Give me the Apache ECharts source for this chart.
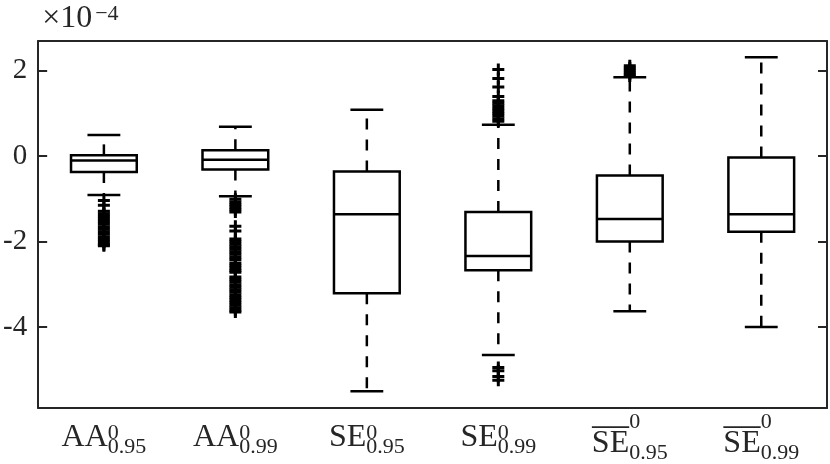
<!DOCTYPE html>
<html lang="en">
<head>
<meta charset="UTF-8">
<title>boxplot</title>
<script src="https://cdn.jsdelivr.net/npm/echarts@6/dist/echarts.min.js"></script>
</head>
<body style="margin:0;background:#fff">
<div id="main" style="width:830px;height:464px"></div>
<script>
// values are in units of 1e-4
var categories = ['AA 0.95', 'AA 0.99', 'SE 0.95', 'SE 0.99', 'SEbar 0.95', 'SEbar 0.99'];
var labelBase = ['AA', 'AA', 'SE', 'SE', 'SE', 'SE'];
var labelSup = ['0', '0', '0', '0', '0', '0'];
var labelSub = ['0.95', '0.99', '0.95', '0.99', '0.95', '0.99'];
var labelBar = [false, false, false, false, true, true];

var whiskerHigh = [0.50, 0.69, 1.09, 0.74, 1.85, 2.32];
var upperQ = [0.02, 0.14, -0.36, -1.31, -0.45, -0.03];
var medians = [-0.10, -0.085, -1.36, -2.34, -1.47, -1.36];
var lowerQ = [-0.37, -0.31, -3.21, -2.67, -2.00, -1.77];
var whiskerLow = [-0.91, -0.94, -5.51, -4.66, -3.63, -4.00];
var outliers = [
  [-1.04, -1.15, -1.29, -1.35, -1.41, -1.47, -1.53, -1.59, -1.65, -1.71, -1.77, -1.83, -1.89, -1.95, -2.01, -2.07, -2.10],
  [-1.01, -1.07, -1.13, -1.19, -1.25, -1.31, -1.64, -1.75, -1.94, -2.00, -2.06, -2.12, -2.18, -2.24, -2.30, -2.36, -2.42,
   -2.50, -2.56, -2.62, -2.68, -2.72, -2.83, -2.89, -2.95, -3.01, -3.07, -3.13, -3.19, -3.25, -3.31, -3.37, -3.43,
   -3.49, -3.55, -3.61, -3.65],
  [],
  [2.03, 1.82, 1.62, 1.40, 1.30, 1.24, 1.18, 1.12, 1.06, 1.00, 0.94, 0.88, 0.82, -4.95, -5.03, -5.16, -5.25],
  [2.12, 2.07, 2.02, 1.97, 1.92, 1.88],
  []
];
var yTicks = [-4, -2, 0, 2];

var FONT = "'Liberation Serif', 'DejaVu Serif', serif";
var AXC = '#262626';
var CLEAR = 'rgba(0,0,0,0)';

var boxData = categories.map(function (c, i) {
  return [i, whiskerLow[i], lowerQ[i], medians[i], upperQ[i], whiskerHigh[i]];
});
var outlierData = [];
outliers.forEach(function (list, i) {
  list.forEach(function (v) { outlierData.push([i, v]); });
});

function renderBox(params, api) {
  var i = api.value(0);
  var x = api.coord([i, 0])[0];
  var w = api.size([1, 0])[0];
  var bw = w * 0.25, cw = w * 0.125;
  var yLo = api.coord([i, api.value(1)])[1];
  var yQ1 = api.coord([i, api.value(2)])[1];
  var yMed = api.coord([i, api.value(3)])[1];
  var yQ3 = api.coord([i, api.value(4)])[1];
  var yHi = api.coord([i, api.value(5)])[1];
  var solid = {stroke: '#000', lineWidth: 2.5, fill: null};
  var dashed = {stroke: '#000', lineWidth: 2.5, lineDash: [11, 10]};
  return {
    type: 'group',
    children: [
      {type: 'line', shape: {x1: x, y1: yQ3, x2: x, y2: yHi}, style: dashed},
      {type: 'line', shape: {x1: x, y1: yQ1, x2: x, y2: yLo}, style: dashed},
      {type: 'line', shape: {x1: x - cw, y1: yHi, x2: x + cw, y2: yHi}, style: solid},
      {type: 'line', shape: {x1: x - cw, y1: yLo, x2: x + cw, y2: yLo}, style: solid},
      {type: 'rect', shape: {x: x - bw, y: yQ3, width: 2 * bw, height: yQ1 - yQ3}, style: solid},
      {type: 'line', shape: {x1: x - bw, y1: yMed, x2: x + bw, y2: yMed}, style: solid}
    ]
  };
}

function xLabel(v, i) {
  if (labelBar[i]) {
    return '{bar|' + labelBase[i] + '}{supb|' + labelSup[i] + '}{spc|' + labelSub[i] + '}\n' +
      '{b|' + labelBase[i] + '}{sub|' + labelSub[i] + '}';
  }
  return '{b|' + labelBase[i] + '}{sup|' + labelSup[i] + '}{sub|' + labelSub[i] + '}';
}

var tickStyle = {inside: true, length: 9, alignWithLabel: true, lineStyle: {color: AXC, width: 2}};

var chart = echarts.init(document.getElementById('main'));
chart.setOption({
  animation: false,
  grid: {left: 38, right: 3, top: 41, bottom: 55},
  xAxis: [{
    type: 'category',
    data: categories,
    position: 'bottom',
    axisLine: {onZero: false, lineStyle: {color: AXC, width: 2}},
    axisTick: tickStyle,
    axisLabel: {
      margin: 14,
      interval: 0,
      formatter: xLabel,
      rich: {
        b: {fontFamily: FONT, fontSize: 32, lineHeight: 36, verticalAlign: 'top', align: 'left', color: AXC},
        sup: {fontFamily: FONT, fontSize: 22, lineHeight: 14, verticalAlign: 'top', align: 'left', width: 0, color: AXC},
        sub: {fontFamily: FONT, fontSize: 22, lineHeight: 22, verticalAlign: 'bottom', align: 'left', color: AXC},
        bar: {fontFamily: FONT, fontSize: 32, height: 1.8, lineHeight: 6, verticalAlign: 'bottom', align: 'left',
              color: CLEAR, backgroundColor: AXC},
        supb: {fontFamily: FONT, fontSize: 22, height: 0, lineHeight: 1, verticalAlign: 'top', align: 'left',
               width: 0, color: AXC},
        spc: {fontFamily: FONT, fontSize: 22, height: 0, lineHeight: 1, align: 'left', color: CLEAR}
      }
    }
  }, {
    type: 'category',
    data: categories,
    position: 'top',
    axisLine: {onZero: false, lineStyle: {color: AXC, width: 2}},
    axisTick: tickStyle,
    axisLabel: {show: false}
  }],
  yAxis: [{
    type: 'value',
    min: -5.9,
    max: 2.7,
    position: 'left',
    name: '{x|\u00d710}{e|\u22124}',
    nameLocation: 'end',
    nameGap: 6,
    nameTextStyle: {
      align: 'left',
      verticalAlign: 'bottom',
      padding: [0, 0, 0, 4],
      rich: {
        x: {fontFamily: FONT, fontSize: 32, lineHeight: 32, verticalAlign: 'bottom', color: AXC},
        e: {fontFamily: FONT, fontSize: 22, lineHeight: 19, verticalAlign: 'top', padding: [0, 0, 0, 3], color: AXC}
      }
    },
    splitLine: {show: false},
    axisLine: {show: true, onZero: false, lineStyle: {color: AXC, width: 2}},
    axisTick: {show: true, inside: true, length: 9, customValues: yTicks, lineStyle: {color: AXC, width: 2}},
    axisLabel: {customValues: yTicks, margin: 11, fontFamily: FONT, fontSize: 29, color: AXC}
  }, {
    type: 'value',
    min: -5.9,
    max: 2.7,
    position: 'right',
    splitLine: {show: false},
    axisLine: {show: true, onZero: false, lineStyle: {color: AXC, width: 2}},
    axisTick: {show: true, inside: true, length: 9, customValues: yTicks, lineStyle: {color: AXC, width: 2}},
    axisLabel: {show: false}
  }],
  series: [{
    type: 'custom',
    renderItem: renderBox,
    data: boxData,
    encode: {x: 0, y: [1, 2, 3, 4, 5]},
    z: 2
  }, {
    type: 'scatter',
    data: outlierData,
    symbol: 'path://M4.5,0H7.5V4.5H12V7.5H7.5V12H4.5V7.5H0V4.5H4.5Z',
    symbolSize: 12,
    itemStyle: {color: '#000', opacity: 1},
    z: 3
  }]
});
</script>
</body>
</html>
